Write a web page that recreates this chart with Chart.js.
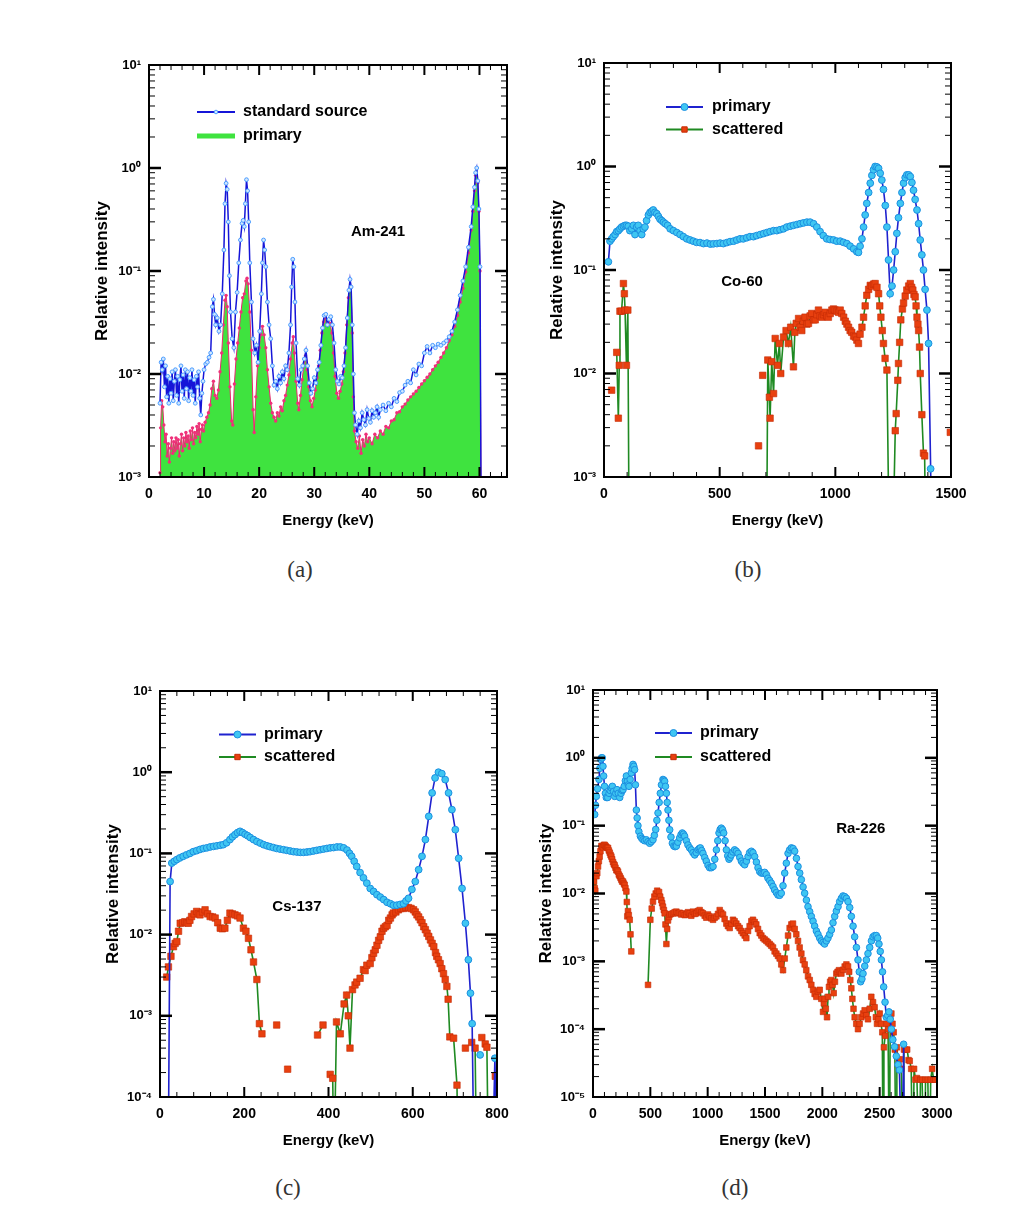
<!DOCTYPE html>
<html><head><meta charset="utf-8">
<script src="https://cdn.jsdelivr.net/npm/chart.js@4.4.1/dist/chart.umd.min.js"></script>
<style>
body{margin:0;background:#fff;width:1024px;height:1226px;position:relative;overflow:hidden}
.cap{position:absolute;font-family:"Liberation Serif","DejaVu Serif",serif;font-size:23px;color:#333;transform:translate(-50%,-50%);white-space:nowrap}
</style></head><body>
<div class="cap" style="left:300px;top:570px">(a)</div>
<div class="cap" style="left:748px;top:570px">(b)</div>
<div class="cap" style="left:288px;top:1188px">(c)</div>
<div class="cap" style="left:735px;top:1188px">(d)</div>
<script>
// ---------------- DATA (energy keV, relative intensity) ----------------
const amStandard=[[2.0,0.0052],[2.2,0.013],[2.4,0.011],[2.6,0.014],[2.8,0.0075],[3.0,0.012],[3.2,0.006],[3.4,0.0095],[3.6,0.0052],[3.8,0.009],[4.0,0.0065],[4.2,0.0105],[4.4,0.0055],[4.6,0.0085],[4.8,0.011],[5.0,0.0062],[5.2,0.0095],[5.4,0.0052],[5.6,0.0088],[5.8,0.012],[6.0,0.0068],[6.2,0.0098],[6.4,0.0058],[6.6,0.011],[6.8,0.0072],[7.0,0.0105],[7.2,0.0055],[7.4,0.0092],[7.6,0.0068],[7.8,0.011],[8.0,0.0062],[8.2,0.0088],[8.4,0.0052],[8.6,0.0095],[8.8,0.0075],[9.0,0.0105],[9.2,0.0058],[9.4,0.004],[9.6,0.0065],[9.8,0.0085],[10.0,0.011],[10.3,0.0125],[10.6,0.013],[10.9,0.0145],[11.2,0.016],[11.5,0.045],[11.7,0.053],[11.9,0.038],[12.1,0.03],[12.4,0.035],[12.7,0.026],[13.0,0.03],[13.3,0.06],[13.6,0.16],[13.8,0.45],[14.0,0.71],[14.2,0.62],[14.4,0.3],[14.6,0.09],[14.8,0.04],[15.1,0.022],[15.4,0.018],[15.7,0.04],[16.0,0.062],[16.3,0.12],[16.6,0.2],[16.9,0.29],[17.1,0.31],[17.3,0.27],[17.5,0.45],[17.7,0.77],[17.9,0.6],[18.1,0.3],[18.3,0.12],[18.6,0.05],[18.9,0.022],[19.2,0.016],[19.5,0.019],[19.8,0.013],[20.1,0.026],[20.4,0.06],[20.6,0.12],[20.8,0.2],[21.0,0.16],[21.2,0.11],[21.5,0.05],[21.8,0.03],[22.1,0.022],[22.4,0.012],[22.7,0.0078],[23.0,0.0085],[23.3,0.0072],[23.6,0.0095],[23.9,0.0082],[24.2,0.0105],[24.5,0.009],[24.8,0.012],[25.1,0.011],[25.4,0.016],[25.7,0.03],[25.9,0.07],[26.1,0.13],[26.3,0.11],[26.5,0.05],[26.7,0.02],[27.0,0.009],[27.3,0.0078],[27.6,0.011],[27.9,0.012],[28.2,0.014],[28.5,0.017],[28.8,0.012],[29.1,0.0082],[29.4,0.0065],[29.7,0.0072],[30.0,0.0092],[30.3,0.0082],[30.6,0.011],[30.9,0.013],[31.2,0.019],[31.5,0.028],[31.8,0.037],[32.1,0.038],[32.4,0.03],[32.7,0.034],[33.0,0.036],[33.3,0.03],[33.6,0.02],[33.9,0.011],[34.2,0.0085],[34.5,0.008],[34.8,0.0095],[35.1,0.0092],[35.4,0.012],[35.7,0.018],[36.0,0.035],[36.3,0.065],[36.5,0.083],[36.7,0.07],[36.9,0.03],[37.1,0.01],[37.3,0.0042],[37.5,0.0032],[37.8,0.0026],[38.1,0.0035],[38.4,0.003],[38.7,0.0042],[39.0,0.0036],[39.3,0.0032],[39.6,0.0045],[39.9,0.0037],[40.2,0.0034],[40.5,0.0044],[40.8,0.0038],[41.1,0.0042],[41.4,0.0048],[41.7,0.0038],[42.0,0.0045],[42.5,0.005],[43.0,0.0044],[43.5,0.0052],[44.0,0.0048],[44.5,0.0058],[45.0,0.0054],[45.5,0.0066],[46.0,0.0068],[46.5,0.0078],[47.0,0.0085],[47.5,0.0082],[48.0,0.011],[48.5,0.0098],[49.0,0.0125],[49.5,0.012],[50.0,0.016],[50.5,0.0185],[51.0,0.016],[51.5,0.019],[52.0,0.018],[52.5,0.0195],[53.0,0.019],[53.5,0.02],[54.0,0.021],[54.5,0.023],[55.0,0.026],[55.5,0.032],[56.0,0.042],[56.5,0.058],[57.0,0.08],[57.5,0.11],[58.0,0.17],[58.5,0.27],[58.8,0.42],[59.1,0.65],[59.3,0.9],[59.5,1.0],[59.7,0.75],[59.9,0.4],[60.1,0.11],[60.3,0.0004]];
const amPrimary=[[2.0,0.0011],[2.1,0.003],[2.3,0.0055],[2.5,0.0048],[2.7,0.0032],[2.9,0.0022],[3.1,0.0026],[3.3,0.0016],[3.5,0.0021],[3.7,0.0014],[3.9,0.0019],[4.1,0.0024],[4.3,0.0017],[4.5,0.0022],[4.7,0.0018],[4.9,0.0024],[5.1,0.0019],[5.3,0.0023],[5.5,0.0016],[5.7,0.0021],[5.9,0.0026],[6.1,0.0018],[6.3,0.0024],[6.5,0.002],[6.7,0.0027],[6.9,0.0022],[7.1,0.0025],[7.3,0.0019],[7.5,0.0028],[7.7,0.0023],[7.9,0.003],[8.1,0.0021],[8.3,0.0027],[8.5,0.0024],[8.7,0.0031],[8.9,0.0026],[9.1,0.0033],[9.3,0.0022],[9.5,0.0029],[9.7,0.0032],[9.9,0.0028],[10.2,0.0034],[10.5,0.0038],[10.8,0.0042],[11.1,0.005],[11.4,0.0072],[11.7,0.0085],[12.0,0.0062],[12.3,0.0058],[12.6,0.007],[12.9,0.0105],[13.2,0.016],[13.5,0.03],[13.8,0.052],[14.0,0.058],[14.2,0.045],[14.4,0.02],[14.7,0.0075],[15.0,0.0035],[15.2,0.0032],[15.5,0.008],[15.8,0.014],[16.1,0.02],[16.4,0.028],[16.7,0.04],[17.0,0.055],[17.3,0.06],[17.6,0.08],[17.8,0.085],[18.0,0.075],[18.3,0.04],[18.6,0.017],[18.9,0.0045],[19.1,0.0027],[19.4,0.006],[19.7,0.012],[20.0,0.018],[20.3,0.024],[20.6,0.029],[20.9,0.024],[21.2,0.018],[21.5,0.011],[21.8,0.0075],[22.1,0.0052],[22.4,0.0042],[22.7,0.0038],[23.0,0.0035],[23.3,0.0042],[23.6,0.0039],[23.9,0.0048],[24.2,0.0044],[24.5,0.0055],[24.8,0.0062],[25.1,0.0078],[25.4,0.0098],[25.7,0.014],[26.0,0.02],[26.2,0.023],[26.4,0.016],[26.7,0.0085],[27.0,0.0052],[27.2,0.0045],[27.5,0.0062],[27.8,0.0088],[28.1,0.012],[28.4,0.015],[28.7,0.011],[29.0,0.0075],[29.3,0.0055],[29.6,0.0048],[29.9,0.0058],[30.2,0.007],[30.5,0.0092],[30.8,0.012],[31.1,0.017],[31.4,0.025],[31.7,0.032],[32.0,0.036],[32.3,0.03],[32.6,0.033],[32.9,0.031],[33.2,0.025],[33.5,0.016],[33.8,0.0095],[34.1,0.0065],[34.4,0.0058],[34.7,0.0068],[35.0,0.008],[35.3,0.0105],[35.6,0.016],[35.9,0.03],[36.2,0.055],[36.5,0.082],[36.7,0.07],[36.9,0.025],[37.1,0.006],[37.3,0.0028],[37.6,0.0022],[37.9,0.0019],[38.2,0.0025],[38.5,0.0017],[38.8,0.0023],[39.1,0.002],[39.4,0.0026],[39.7,0.0022],[40.0,0.0024],[40.5,0.0021],[41.0,0.0026],[41.5,0.0024],[42.0,0.0028],[42.5,0.0026],[43.0,0.0031],[43.5,0.003],[44.0,0.0035],[44.5,0.0036],[45.0,0.0042],[45.5,0.0043],[46.0,0.0048],[46.5,0.0051],[47.0,0.0056],[47.5,0.006],[48.0,0.0064],[48.5,0.0068],[49.0,0.0074],[49.5,0.008],[50.0,0.0086],[50.5,0.0093],[51.0,0.01],[51.5,0.011],[52.0,0.012],[52.5,0.013],[53.0,0.0145],[53.5,0.016],[54.0,0.018],[54.5,0.021],[55.0,0.024],[55.5,0.029],[56.0,0.037],[56.5,0.05],[57.0,0.068],[57.5,0.098],[58.0,0.15],[58.5,0.25],[58.8,0.38],[59.1,0.6],[59.3,0.85],[59.5,1.0],[59.7,0.72],[59.9,0.38],[60.1,0.1],[60.3,0.0004]];

const coPrimary=[[19,0.12],[26,0.19],[33,0.2],[40,0.21],[48,0.22],[55,0.235],[62,0.24],[69,0.25],[76,0.26],[84,0.265],[91,0.27],[98,0.27],[105,0.265],[112,0.24],[120,0.25],[127,0.27],[134,0.22],[141,0.26],[148,0.27],[156,0.24],[163,0.22],[170,0.25],[177,0.26],[184,0.3],[192,0.34],[199,0.36],[206,0.37],[213,0.38],[220,0.36],[228,0.35],[235,0.33],[242,0.31],[250,0.3],[257,0.29],[265,0.28],[275,0.27],[286,0.25],[300,0.24],[315,0.23],[329,0.22],[343,0.21],[358,0.2],[372,0.195],[386,0.19],[400,0.185],[415,0.184],[430,0.18],[445,0.182],[460,0.178],[473,0.179],[488,0.18],[502,0.182],[516,0.18],[531,0.184],[545,0.188],[560,0.19],[574,0.195],[588,0.2],[602,0.2],[617,0.205],[631,0.21],[646,0.21],[660,0.215],[675,0.22],[690,0.225],[704,0.23],[718,0.235],[733,0.24],[747,0.24],[761,0.245],[776,0.25],[790,0.26],[805,0.265],[819,0.27],[834,0.275],[848,0.28],[862,0.285],[877,0.29],[891,0.29],[906,0.28],[920,0.26],[934,0.235],[948,0.215],[963,0.2],[977,0.197],[992,0.195],[1006,0.19],[1021,0.19],[1035,0.185],[1050,0.18],[1064,0.17],[1079,0.16],[1093,0.15],[1100,0.148],[1107,0.17],[1115,0.2],[1122,0.26],[1129,0.34],[1136,0.44],[1144,0.56],[1151,0.69],[1158,0.82],[1165,0.93],[1172,1.0],[1180,0.99],[1187,0.96],[1194,0.86],[1201,0.74],[1208,0.6],[1216,0.42],[1223,0.26],[1230,0.125],[1237,0.059],[1245,0.07],[1252,0.1],[1259,0.15],[1266,0.226],[1273,0.32],[1281,0.44],[1288,0.56],[1295,0.69],[1302,0.78],[1309,0.83],[1317,0.83],[1324,0.8],[1331,0.7],[1338,0.59],[1345,0.48],[1353,0.38],[1360,0.28],[1367,0.195],[1374,0.14],[1381,0.1],[1388,0.065],[1396,0.041],[1403,0.0195],[1412,0.0012],[1416,0.0002]];
const coScattered=[[33,0.0069],[44,null],[55,0.016],[62,0.0037],[66,0.012],[69,0.04],[76,0.04],[84,0.074],[88,0.059],[91,0.041],[97,0.012],[103,0.041],[108,0.0004],[300,null],[668,0.002],[677,null],[686,0.0096],[695,null],[703,0.0002],[708,0.0135],[715,0.0059],[718,0.0037],[725,0.013],[733,0.0064],[740,0.0218],[750,0.012],[758,0.0195],[764,0.01],[776,0.0225],[787,0.026],[797,0.0195],[807,0.028],[819,0.0116],[825,0.025],[831,0.0305],[841,0.034],[848,0.028],[855,0.026],[862,0.032],[869,0.035],[877,0.03],[884,0.0305],[891,0.036],[898,0.038],[906,0.033],[913,0.033],[920,0.037],[927,0.041],[934,0.036],[942,0.035],[949,0.037],[956,0.039],[963,0.036],[970,0.035],[978,0.038],[985,0.041],[992,0.042],[999,0.041],[1007,0.04],[1014,0.039],[1021,0.041],[1028,0.038],[1036,0.035],[1043,0.032],[1050,0.03],[1057,0.028],[1064,0.026],[1071,0.025],[1079,0.023],[1086,0.0225],[1093,0.021],[1100,0.0195],[1107,0.024],[1115,0.028],[1122,0.035],[1129,0.045],[1136,0.057],[1144,0.065],[1151,0.071],[1158,0.07],[1165,0.073],[1172,0.074],[1180,0.068],[1187,0.059],[1192,0.045],[1197,0.035],[1203,0.026],[1208,0.0195],[1215,0.014],[1223,0.0108],[1232,0.0003],[1250,0.0003],[1259,0.0028],[1263,0.0041],[1270,0.0086],[1273,0.0125],[1278,0.02],[1283,0.033],[1290,0.042],[1295,0.048],[1302,0.056],[1309,0.064],[1317,0.07],[1324,0.074],[1330,0.068],[1335,0.064],[1340,0.058],[1345,0.055],[1349,0.045],[1353,0.035],[1357,0.03],[1360,0.026],[1364,0.018],[1367,0.01],[1374,0.004],[1381,0.0017],[1386,0.0016],[1390,0.0003],[1450,null],[1497,0.0027]];

const csPrimary=[[20,0.00003],[24,0.045],[28,0.076],[34,0.08],[40,0.084],[47,0.088],[55,0.092],[63,0.096],[71,0.1],[79,0.105],[87,0.108],[95,0.112],[103,0.115],[111,0.117],[119,0.12],[127,0.122],[135,0.124],[143,0.126],[150,0.128],[158,0.135],[166,0.148],[172,0.16],[178,0.17],[184,0.18],[190,0.187],[196,0.18],[202,0.172],[208,0.165],[214,0.157],[222,0.148],[230,0.14],[238,0.134],[246,0.128],[254,0.124],[261,0.121],[269,0.118],[277,0.115],[285,0.113],[293,0.111],[301,0.109],[309,0.107],[317,0.105],[325,0.104],[333,0.103],[341,0.103],[349,0.104],[356,0.105],[364,0.107],[372,0.109],[380,0.111],[388,0.113],[396,0.115],[404,0.117],[412,0.118],[420,0.12],[428,0.12],[436,0.117],[444,0.11],[450,0.1],[455,0.092],[461,0.08],[467,0.069],[475,0.058],[483,0.05],[491,0.043],[499,0.037],[507,0.034],[515,0.031],[523,0.029],[531,0.027],[539,0.025],[547,0.024],[554,0.023],[562,0.023],[570,0.0235],[578,0.024],[584,0.026],[590,0.028],[598,0.036],[606,0.045],[614,0.063],[622,0.092],[630,0.148],[638,0.286],[646,0.556],[653,0.85],[661,1.0],[669,0.96],[677,0.81],[685,0.556],[693,0.346],[701,0.196],[709,0.087],[717,0.037],[725,0.0138],[732,0.0049],[737,0.0019],[741,0.0008],[745,0.00002],[750,null],[760,0.00033],[770,null],[790,0.00002],[795,0.0003],[799,0.00002]];
const csScattered=[[16,0.003],[20,0.004],[26,0.0054],[32,0.0071],[36,0.0078],[40,0.0082],[44,0.011],[48,0.0138],[54,0.014],[59,0.0144],[63,0.014],[67,0.0138],[71,0.015],[75,0.0167],[81,0.018],[87,0.0193],[91,0.018],[95,0.0175],[101,0.019],[107,0.0202],[113,0.018],[119,0.0167],[125,0.0165],[131,0.016],[137,0.014],[143,0.012],[148,0.0118],[154,0.012],[160,0.015],[166,0.0184],[172,0.018],[178,0.0175],[184,0.017],[190,0.016],[198,0.012],[204,0.011],[210,0.009],[216,0.0065],[222,0.0046],[230,0.0028],[236,0.0008],[242,0.0006],[250,null],[277,0.00077],[285,null],[303,0.00022],[310,null],[374,0.00058],[387,0.00077],[395,null],[404,0.00019],[410,0.00017],[413,0.00001],[419,0.00084],[428,0.0006],[437,0.0014],[443,0.0018],[447,0.001],[451,0.0004],[457,0.0021],[463,0.0024],[467,0.0026],[475,0.0029],[483,0.0037],[487,0.0036],[491,0.0042],[499,0.0044],[503,0.0052],[507,0.0059],[511,0.0065],[515,0.0074],[519,0.0085],[523,0.0094],[527,0.011],[531,0.012],[535,0.0125],[539,0.013],[543,0.015],[547,0.016],[551,0.0175],[554,0.0184],[560,0.019],[566,0.0202],[572,0.021],[578,0.021],[584,0.0215],[590,0.0215],[596,0.021],[602,0.0202],[606,0.019],[610,0.0175],[614,0.0165],[618,0.0152],[622,0.014],[626,0.0125],[630,0.0115],[634,0.0104],[638,0.0095],[642,0.0086],[646,0.0078],[650,0.0071],[654,0.006],[657,0.0054],[661,0.0049],[665,0.0044],[669,0.0038],[673,0.0033],[677,0.0028],[681,0.0023],[684,0.0016],[688,0.00055],[697,0.00053],[705,0.00014],[708,0.00001],[715,null],[725,0.0004],[732,null],[740,0.00047],[748,0.0004],[752,0.00001],[758,null],[764,0.00054],[772,0.00045],[776,0.00041],[780,0.00001],[788,null],[796,0.00018]];

const raPrimary=[[15,0.146],[22,0.2],[29,0.27],[40,0.35],[52,0.48],[60,0.7],[67,0.95],[74,1.0],[81,1.0],[87,0.75],[93,0.54],[100,0.38],[108,0.3],[116,0.26],[128,0.26],[140,0.3],[150,0.33],[160,0.36],[169,0.38],[179,0.32],[189,0.27],[199,0.3],[209,0.34],[221,0.3],[233,0.26],[245,0.3],[255,0.33],[262,0.34],[272,0.38],[282,0.46],[291,0.54],[300,0.45],[308,0.4],[314,0.38],[324,0.48],[334,0.6],[341,0.7],[349,0.8],[356,0.75],[363,0.67],[370,0.4],[378,0.17],[385,0.13],[392,0.1],[400,0.082],[413,0.07],[425,0.065],[436,0.062],[450,0.06],[465,0.062],[480,0.058],[494,0.055],[508,0.058],[523,0.062],[535,0.072],[547,0.088],[557,0.12],[567,0.154],[577,0.22],[587,0.3],[597,0.4],[610,0.48],[618,0.47],[625,0.45],[632,0.38],[640,0.3],[647,0.22],[654,0.17],[662,0.12],[669,0.087],[680,0.068],[692,0.055],[705,0.05],[716,0.049],[727,0.05],[740,0.057],[756,0.066],[768,0.074],[779,0.078],[789,0.075],[799,0.07],[814,0.06],[828,0.052],[843,0.047],[858,0.044],[872,0.04],[887,0.037],[901,0.04],[916,0.044],[926,0.046],[936,0.047],[948,0.043],[959,0.039],[974,0.034],[988,0.03],[1003,0.026],[1017,0.024],[1032,0.024],[1047,0.025],[1062,0.032],[1076,0.044],[1088,0.06],[1099,0.078],[1109,0.088],[1119,0.092],[1130,0.087],[1140,0.078],[1152,0.06],[1163,0.044],[1175,0.036],[1186,0.032],[1196,0.034],[1206,0.037],[1220,0.041],[1235,0.044],[1250,0.042],[1265,0.039],[1280,0.034],[1294,0.03],[1308,0.028],[1323,0.0265],[1338,0.03],[1352,0.035],[1366,0.04],[1381,0.042],[1395,0.04],[1410,0.035],[1425,0.029],[1439,0.024],[1454,0.021],[1468,0.02],[1483,0.02],[1497,0.0205],[1512,0.019],[1526,0.0168],[1541,0.0155],[1555,0.0142],[1570,0.0127],[1584,0.0113],[1599,0.0103],[1613,0.0095],[1628,0.0094],[1642,0.0101],[1657,0.013],[1672,0.02],[1686,0.028],[1701,0.039],[1715,0.044],[1730,0.047],[1745,0.046],[1759,0.042],[1774,0.033],[1788,0.025],[1803,0.02],[1817,0.016],[1832,0.0125],[1846,0.0101],[1861,0.008],[1875,0.0064],[1890,0.0054],[1904,0.0046],[1919,0.0039],[1933,0.0033],[1948,0.0028],[1962,0.0025],[1977,0.0022],[1991,0.002],[2006,0.0019],[2020,0.0018],[2035,0.002],[2049,0.0022],[2064,0.0025],[2079,0.0029],[2093,0.0037],[2108,0.0046],[2122,0.0055],[2137,0.0064],[2151,0.0076],[2166,0.0085],[2180,0.0092],[2195,0.009],[2210,0.0085],[2224,0.0076],[2239,0.0062],[2253,0.0046],[2268,0.0033],[2282,0.0023],[2297,0.0016],[2311,0.00105],[2322,0.0007],[2334,0.0005],[2345,0.00055],[2355,0.00066],[2370,0.00085],[2384,0.00105],[2398,0.0013],[2413,0.0016],[2428,0.002],[2442,0.0023],[2457,0.0024],[2471,0.0024],[2483,0.0022],[2494,0.0018],[2505,0.0014],[2515,0.00105],[2525,0.0007],[2535,0.00042],[2547,0.00025],[2558,0.00015],[2570,0.00016],[2581,0.00018],[2592,0.00014],[2602,0.0001],[2615,0.00007],[2630,0.000055],[2645,0.00004],[2660,0.00003],[2672,0.000025],[2685,0.000003],[2695,0.0000005],[2709,0.00006],[2718,0.0000005]];
const raScattered=[[9,0.015],[15,0.012],[20,0.011],[30,0.018],[37,0.02],[44,0.025],[51,0.03],[58,0.035],[65,0.042],[73,0.05],[80,0.05],[87,0.048],[95,0.052],[102,0.052],[110,0.05],[117,0.048],[124,0.047],[131,0.047],[138,0.043],[146,0.04],[153,0.037],[160,0.035],[167,0.032],[175,0.029],[182,0.027],[189,0.026],[196,0.024],[204,0.022],[211,0.022],[218,0.021],[225,0.019],[233,0.018],[240,0.017],[247,0.016],[254,0.015],[262,0.015],[269,0.014],[276,0.0134],[283,0.012],[291,0.0107],[295,0.0075],[299,0.0046],[305,0.0055],[312,0.0048],[320,0.0041],[327,0.0025],[334,0.0014],[400,null],[480,0.00045],[500,0.0041],[512,0.006],[523,0.0076],[535,0.009],[547,0.01],[560,0.011],[576,0.0105],[586,0.009],[596,0.008],[603,0.0072],[610,0.0064],[618,0.0057],[625,0.0051],[632,0.0035],[640,0.0018],[647,0.003],[654,0.004],[662,0.0045],[669,0.0049],[683,0.005],[698,0.0051],[712,0.0053],[727,0.0054],[741,0.0051],[756,0.0052],[770,0.0049],[785,0.0051],[800,0.0048],[814,0.0049],[828,0.0053],[843,0.0051],[857,0.0047],[872,0.0054],[887,0.005],[901,0.0051],[915,0.0055],[930,0.0057],[945,0.0053],[959,0.0051],[974,0.0047],[988,0.0044],[1003,0.0049],[1017,0.0046],[1032,0.0043],[1047,0.0041],[1061,0.0044],[1076,0.0046],[1090,0.005],[1105,0.0057],[1119,0.0052],[1134,0.0049],[1148,0.0042],[1163,0.0036],[1177,0.0033],[1192,0.0031],[1206,0.0036],[1221,0.0041],[1235,0.0039],[1250,0.0036],[1265,0.0033],[1279,0.0031],[1294,0.0028],[1308,0.0026],[1323,0.0024],[1337,0.0022],[1352,0.0028],[1366,0.0033],[1381,0.0039],[1395,0.0041],[1410,0.0038],[1424,0.0035],[1439,0.003],[1454,0.0026],[1468,0.0024],[1483,0.0022],[1497,0.0021],[1512,0.002],[1526,0.0019],[1541,0.0018],[1555,0.0017],[1570,0.0016],[1584,0.0014],[1599,0.0013],[1613,0.0012],[1628,0.0011],[1642,0.0009],[1657,0.00074],[1672,0.0011],[1686,0.0016],[1701,0.0024],[1715,0.0031],[1730,0.0035],[1744,0.0036],[1759,0.003],[1773,0.0025],[1788,0.002],[1802,0.0016],[1817,0.0013],[1831,0.00104],[1846,0.0009],[1860,0.00074],[1875,0.0006],[1890,0.00053],[1904,0.00045],[1919,0.00038],[1933,0.00033],[1948,0.0003],[1962,0.00036],[1977,0.00038],[1991,0.00028],[2006,0.00018],[2013,0.00024],[2020,0.00028],[2030,0.0002],[2041,0.00015],[2050,0.0003],[2058,0.00042],[2068,0.0005],[2079,0.00053],[2089,0.00045],[2099,0.00034],[2110,0.0005],[2122,0.00066],[2133,0.0007],[2145,0.00074],[2155,0.0007],[2166,0.00066],[2180,0.00075],[2195,0.00084],[2210,0.0009],[2224,0.00084],[2234,0.0007],[2244,0.00053],[2253,0.0004],[2262,0.00028],[2272,0.0002],[2282,0.00015],[2296,0.00012],[2311,0.0001],[2325,0.00012],[2340,0.00015],[2355,0.00017],[2369,0.00019],[2384,0.00016],[2398,0.00014],[2413,0.0002],[2427,0.0003],[2442,0.00025],[2456,0.00021],[2467,0.00015],[2477,0.00012],[2489,0.00014],[2500,0.00017],[2512,0.00012],[2523,0.00009],[2530,0.0000005],[2537,0.000054],[2548,0.00008],[2560,0.00012],[2573,0.0001],[2585,0.0000005],[2592,0.00015],[2602,0.00017],[2612,0.00012],[2622,0.00009],[2632,0.00005],[2643,0.0000005],[2650,0.000054],[2662,0.00003],[2675,0.000036],[2689,0.000026],[2701,0.0000005],[2712,0.00005],[2725,0.00005],[2740,0.00005],[2752,0.000035],[2762,0.000034],[2775,0.000026],[2789,0.0000005],[2800,0.000026],[2812,0.000018],[2825,0.000019],[2847,0.0000005],[2855,0.000018],[2870,0.000018],[2890,0.0000005],[2900,0.000018],[2920,0.000018],[2935,0.0000005],[2945,0.000018],[2958,0.000026],[2970,0.000018],[2985,0.000018]];

// axis ticks
const xTicksA=[0,10,20,30,40,50,60];
const xTicksB=[0,500,1000,1500];
const xTicksC=[0,200,400,600,800];
const xTicksD=[0,500,1000,1500,2000,2500,3000];

// ---------------- RENDERING ----------------
const FONT='"Liberation Sans", Arial, Helvetica, sans-serif';
Chart.defaults.font.family=FONT;
const SUP={'-':'\u207B','0':'\u2070','1':'\u00B9','2':'\u00B2','3':'\u00B3','4':'\u2074','5':'\u2075'};
function powLabel(v){const e=Math.round(Math.log10(v));return '10'+String(e).split('').map(c=>SUP[c]).join('');}
const toPts=arr=>arr.map(p=>({x:p[0],y:p[1]}));

const frameTicks={id:'frameTicks',afterDraw(chart,args,o){
  const {ctx,chartArea:a}=chart;const x=chart.scales.x,y=chart.scales.y;
  const ln=(x1,y1,x2,y2)=>{ctx.beginPath();ctx.moveTo(x1,y1);ctx.lineTo(x2,y2);ctx.stroke();};
  ctx.save();ctx.strokeStyle='#000';ctx.lineCap='butt';
  ctx.lineWidth=1;
  for(let v=o.xMin+o.xMinor;v<o.xMax-1e-9;v+=o.xMinor){if(o.xMajors.includes(v))continue;const px=x.getPixelForValue(v);ln(px,a.bottom,px,a.bottom-5);ln(px,a.top,px,a.top+5);}
  ctx.lineWidth=2;
  for(const v of o.xMajors){const px=x.getPixelForValue(v);if(px<=a.left+2||px>=a.right-2)continue;ln(px,a.bottom,px,a.bottom-10);ln(px,a.top,px,a.top+10);}
  ctx.lineWidth=1;
  for(let e=o.yMinExp;e<o.yMaxExp;e++){for(let m=2;m<=9;m++){const py=y.getPixelForValue(m*Math.pow(10,e));ln(a.left,py,a.left+6,py);ln(a.right,py,a.right-6,py);}}
  ctx.lineWidth=2.5;
  for(let e=o.yMinExp+1;e<o.yMaxExp;e++){const py=y.getPixelForValue(Math.pow(10,e));ln(a.left,py,a.left+12,py);ln(a.right,py,a.right-12,py);}
  ctx.lineWidth=2;ctx.strokeRect(a.left,a.top,a.width,a.height);
  ctx.restore();
}};

const decor={id:'decor',afterDraw(chart,args,o){
  const ctx=chart.ctx;const x=chart.scales.x,y=chart.scales.y;
  ctx.save();
  ctx.textBaseline='middle';ctx.textAlign='left';
  o.items.forEach((it,i)=>{
    const yy=o.rows[i]-o.oy,x1=o.x1-o.ox,x2=o.x2-o.ox;
    ctx.strokeStyle=it.color;ctx.lineWidth=it.width;ctx.beginPath();ctx.moveTo(x1,yy);ctx.lineTo(x2,yy);ctx.stroke();
    if(it.marker){ctx.fillStyle=it.fill;ctx.strokeStyle=it.stroke;ctx.lineWidth=1;
      Chart.helpers.drawPoint(ctx,{pointStyle:it.marker,radius:it.r,borderWidth:1,rotation:0},(x1+x2)/2,yy);}
    ctx.fillStyle='#000';ctx.font='bold 16px '+FONT;ctx.fillText(it.label,o.tx-o.ox,yy);
  });
  ctx.font='bold 15px '+FONT;ctx.textAlign='center';ctx.fillStyle='#000';
  ctx.fillText(o.note.text,x.getPixelForValue(o.note.x),y.getPixelForValue(o.note.y));
  ctx.restore();
}};

function makePanel(p){
  const PL=75,PT=20,PR=35,PB=65;
  const ox=p.l-PL,oy=p.t-PT;
  const wrap=document.createElement('div');
  wrap.style.cssText='position:absolute;left:'+ox+'px;top:'+oy+'px;';
  const cv=document.createElement('canvas');
  cv.width=PL+p.w+PR;cv.height=PT+p.h+PB;
  cv.style.width=cv.width+'px';cv.style.height=cv.height+'px';
  wrap.appendChild(cv);document.body.appendChild(wrap);
  const exps=[];for(let e=p.yMinExp;e<=p.yMaxExp;e++)exps.push(e);
  new Chart(cv,{type:'line',data:{datasets:p.datasets},
    options:{responsive:false,animation:false,devicePixelRatio:1,events:[],
      layout:{padding:{left:0,top:PT,right:PR,bottom:0}},
      elements:{line:{tension:0}},
      plugins:{legend:{display:false},tooltip:{enabled:false},
        frameTicks:{xMin:p.xMin,xMax:p.xMax,xMinor:p.xMinor,xMajors:p.xTicks,yMinExp:p.yMinExp,yMaxExp:p.yMaxExp},
        decor:Object.assign({ox:ox,oy:oy},p.legend,{note:p.note})},
      scales:{
        x:{type:'linear',min:p.xMin,max:p.xMax,
          afterBuildTicks:s=>{s.ticks=p.xTicks.map(v=>({value:v}));},
          afterFit:s=>{s.height=PB;},
          grid:{display:false,drawTicks:false},border:{display:false},
          ticks:{padding:9,color:'#000',font:{size:14,weight:'bold'},maxRotation:0,autoSkip:false,callback:v=>String(v)},
          title:{display:true,text:'Energy (keV)',color:'#000',font:{size:15,weight:'bold'},padding:{top:0,bottom:12}}},
        y:{type:'logarithmic',min:Math.pow(10,p.yMinExp),max:Math.pow(10,p.yMaxExp),
          afterBuildTicks:s=>{s.ticks=exps.map(e=>({value:Math.pow(10,e)}));},
          afterFit:s=>{s.width=PL;},
          grid:{display:false,drawTicks:false},border:{display:false},
          ticks:{padding:8,color:'#000',font:{size:13,weight:'bold'},autoSkip:false,callback:v=>powLabel(v)},
          title:{display:true,text:'Relative intensity',color:'#000',font:{size:17,weight:'bold'},padding:{top:18,bottom:0}}}
      }},
    plugins:[frameTicks,decor]});
}

const BLUE='#1f22cf',LBLUE='#3fc6f2',LBLUE_B='#1c8fe0',GREEN='#1f8a22',RED='#e8400f',RED_B='#c42a05';
function primarySet(data,r){return{label:'primary',data:toPts(data),borderColor:BLUE,borderWidth:1.6,pointStyle:'circle',pointRadius:r,pointBackgroundColor:LBLUE,pointBorderColor:LBLUE_B,pointBorderWidth:1,fill:false,spanGaps:false};}
function scatteredSet(data,r){return{label:'scattered',data:toPts(data),borderColor:GREEN,borderWidth:1.6,pointStyle:'rect',pointRadius:r,pointBackgroundColor:RED,pointBorderColor:RED_B,pointBorderWidth:0.6,fill:false,spanGaps:false};}
const legendBD=[{label:'primary',color:BLUE,width:2,marker:'circle',r:3.5,fill:LBLUE,stroke:LBLUE_B},{label:'scattered',color:GREEN,width:2,marker:'rect',r:3.8,fill:RED,stroke:RED_B}];

makePanel({l:149,t:65,w:358,h:412,xMin:0,xMax:65,xTicks:xTicksA,xMinor:2,yMinExp:-3,yMaxExp:1,
  datasets:[
    {label:'standard source',data:toPts(amStandard),borderColor:'#1515d8',borderWidth:1.5,pointStyle:'circle',pointRadius:1.9,pointBackgroundColor:'#cfe6ff',pointBorderColor:'#4a9cff',pointBorderWidth:1,fill:false},
    {label:'primary',data:toPts(amPrimary),borderColor:'#e8286e',borderWidth:1,pointStyle:'circle',pointRadius:1.7,pointBackgroundColor:'#f0307a',pointBorderWidth:0,fill:'start',backgroundColor:'#3fe33f'}],
  legend:{x1:197,x2:235,tx:243,rows:[112,136],items:[{label:'standard source',color:'#1515d8',width:2,marker:'circle',r:1.8,fill:'#cfe6ff',stroke:'#4a9cff'},{label:'primary',color:'#3fe33f',width:5}]},
  note:{text:'Am-241',x:41.6,y:0.24}});

makePanel({l:604,t:63,w:347,h:414,xMin:0,xMax:1500,xTicks:xTicksB,xMinor:100,yMinExp:-3,yMaxExp:1,
  datasets:[primarySet(coPrimary,3.4),scatteredSet(coScattered,4.6)],
  legend:{x1:666,x2:703,tx:712,rows:[107,129.5],items:legendBD},
  note:{text:'Co-60',x:597,y:0.0766}});

makePanel({l:160,t:691,w:337,h:406,xMin:0,xMax:800,xTicks:xTicksC,xMinor:40,yMinExp:-4,yMaxExp:1,
  datasets:[primarySet(csPrimary,3.4),scatteredSet(csScattered,4.6)],
  legend:{x1:219,x2:256,tx:264,rows:[734.5,757],items:legendBD},
  note:{text:'Cs-137',x:325,y:0.0222}});

makePanel({l:593,t:690,w:344,h:407,xMin:0,xMax:3000,xTicks:xTicksD,xMinor:100,yMinExp:-5,yMaxExp:1,
  datasets:[primarySet(raPrimary,3.3),scatteredSet(raScattered,4)],
  legend:{x1:655,x2:692,tx:700,rows:[733,757],items:legendBD},
  note:{text:'Ra-226',x:2335,y:0.091}});
</script>
</body></html>
